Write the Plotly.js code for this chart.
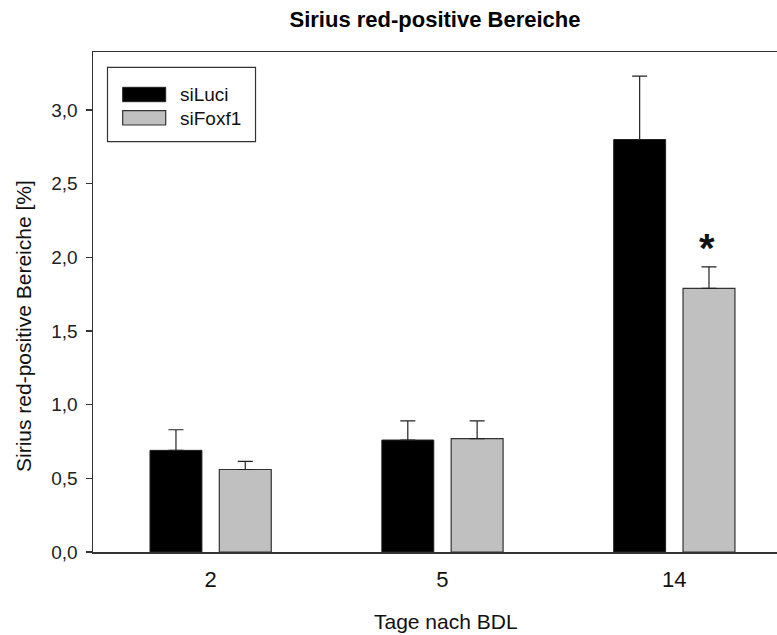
<!DOCTYPE html>
<html>
<head>
<meta charset="utf-8">
<script src="https://cdn.plot.ly/plotly-3.0.1.min.js"></script>
<style>
  html, body { margin: 0; padding: 0; background: #fff; overflow: hidden; }
  #chart { width: 777px; height: 635px; }
</style>
</head>
<body>
<div id="chart"></div>
<script>
// Days after bile duct ligation
const categories = ['2', '5', '14'];
const seriesNames = ['siLuci', 'siFoxf1'];

// Sirius red-positive area [%] (mean) and upper error (SEM)
const siLuciValues = [0.69, 0.76, 2.80];
const siLuciErrors = [0.14, 0.13, 0.43];
const siFoxf1Values = [0.56, 0.77, 1.79];
const siFoxf1Errors = [0.055, 0.12, 0.145];

const yTicks = [0, 0.5, 1.0, 1.5, 2.0, 2.5, 3.0];

const FONT = '"Liberation Sans", Arial, sans-serif';
const pos = categories.map((_, i) => i);

const barW = 0.224;
const errStyle = (arr) => ({
  type: 'data', symmetric: false, array: arr, arrayminus: arr.map(() => 0),
  color: '#222', thickness: 1.2, width: 7.5
});

const traces = [
  {
    type: 'bar', name: seriesNames[0], x: pos, y: siLuciValues,
    width: barW, offset: -0.261,
    marker: { color: '#000000', line: { color: '#222', width: 1 } },
    error_y: errStyle(siLuciErrors), showlegend: false, hoverinfo: 'x+y'
  },
  {
    type: 'bar', name: seriesNames[1], x: pos, y: siFoxf1Values,
    width: barW, offset: 0.038,
    marker: { color: '#c0c0c0', line: { color: '#333', width: 1.2 } },
    error_y: errStyle(siFoxf1Errors), showlegend: false, hoverinfo: 'x+y'
  }
];

// Legend box drawn in paper space
const legendShapes = [
  { type: 'rect', xref: 'paper', yref: 'paper', x0: 0.0212, x1: 0.2376, y0: 0.8206, y1: 0.9694,
    line: { color: '#333', width: 1.2 }, fillcolor: 'rgba(0,0,0,0)' },
  { type: 'rect', xref: 'paper', yref: 'paper', x0: 0.0434, x1: 0.1063, y0: 0.9006, y1: 0.9294,
    line: { color: '#222', width: 1 }, fillcolor: '#000000' },
  { type: 'rect', xref: 'paper', yref: 'paper', x0: 0.0434, x1: 0.1063, y0: 0.854, y1: 0.8826,
    line: { color: '#333', width: 1.2 }, fillcolor: '#c0c0c0' }
];

const annotations = [
  { xref: 'paper', yref: 'paper', x: 0.1247, y: 0.915, xanchor: 'left', yanchor: 'middle',
    text: seriesNames[0], showarrow: false, font: { family: FONT, size: 19, color: '#111' } },
  { xref: 'paper', yref: 'paper', x: 0.1247, y: 0.868, xanchor: 'left', yanchor: 'middle',
    text: seriesNames[1], showarrow: false, font: { family: FONT, size: 19, color: '#111' } },
  // significance marker above the day-14 siFoxf1 bar
  { xref: 'x', yref: 'y', x: 2 + 0.038 + barW / 2 - 0.01, y: siFoxf1Values[2] + siFoxf1Errors[2] + 0.13,
    xanchor: 'center', yanchor: 'middle', text: '<b>*</b>', showarrow: false,
    font: { family: FONT, size: 40, color: '#111' } },
  // axis titles
  { xref: 'paper', yref: 'paper', x: -0.1023, y: 0.452, xanchor: 'center', yanchor: 'middle',
    textangle: -90, text: 'Sirius red-positive Bereiche [%]', showarrow: false,
    font: { family: FONT, size: 21, color: '#111' } },
  { xref: 'paper', yref: 'paper', x: 0.5158, y: -0.138, xanchor: 'center', yanchor: 'middle',
    text: 'Tage nach BDL', showarrow: false,
    font: { family: FONT, size: 21, color: '#111' } }
];

const layout = {
  width: 777, height: 635,
  margin: { l: 93, r: 0, t: 52, b: 83, pad: 0 },
  paper_bgcolor: '#ffffff', plot_bgcolor: '#ffffff',
  separators: ',.',
  barmode: 'overlay',
  showlegend: false,
  font: { family: FONT, color: '#111' },
  title: {
    text: '<b>Sirius red-positive Bereiche</b>',
    font: { family: FONT, size: 22, color: '#000' },
    xref: 'paper', x: 0.5, xanchor: 'center',
    yref: 'container', y: 0.969, yanchor: 'middle'
  },
  xaxis: {
    range: [-0.5068, 2.4434],
    tickvals: pos, ticktext: categories,
    ticks: '', showgrid: false, zeroline: false,
    showline: true, linecolor: '#333', linewidth: 1.5, mirror: true,
    tickfont: { family: FONT, size: 22, color: '#111' },
    ticklabelstandoff: 7, fixedrange: true
  },
  yaxis: {
    range: [0, 3.394],
    tickvals: yTicks, tickformat: '.1f',
    ticks: 'outside', ticklen: 6, tickwidth: 1.2, tickcolor: '#333',
    showgrid: false, zeroline: false,
    showline: true, linecolor: '#333', linewidth: 1.5,
    tickfont: { family: FONT, size: 19, color: '#222' },
    ticklabelstandoff: 4, fixedrange: true
  },
  shapes: legendShapes,
  annotations: annotations
};

Plotly.newPlot('chart', traces, layout, { displayModeBar: false, staticPlot: true });
</script>
</body>
</html>
